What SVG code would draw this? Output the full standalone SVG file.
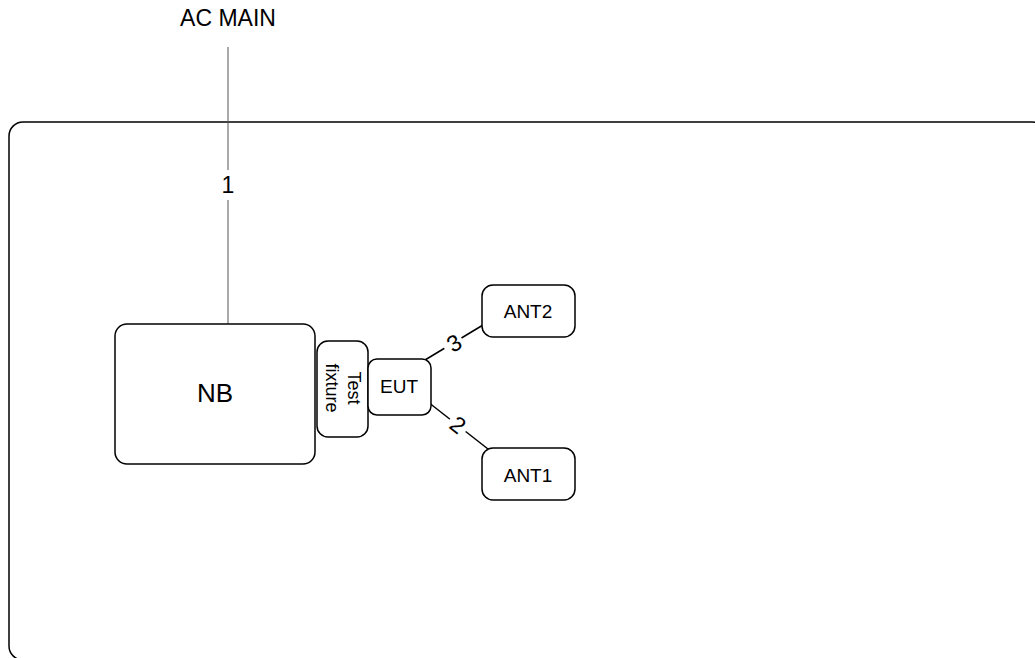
<svg xmlns="http://www.w3.org/2000/svg" width="1035" height="658" viewBox="0 0 1035 658">
<style>
.box{fill:#fff;stroke:#000;stroke-width:1.5}
.t{font-family:"Liberation Sans",Arial,sans-serif;fill:#000;text-anchor:middle;dominant-baseline:central}
.ln{stroke:#000;stroke-width:1.5;fill:none}
</style>
<rect x="0" y="0" width="1035" height="658" fill="#fff"/>
<g id="enclosure"><rect class="box" x="9" y="122" width="1037" height="538" rx="14"/></g>
<g id="connectors">
<line x1="228" y1="47" x2="228" y2="324" stroke="#555" stroke-width="1"/>
<rect x="218" y="170" width="20" height="30" fill="#fff"/>
<text class="t" x="228" y="185" font-size="23">1</text>
<line class="ln" x1="425" y1="360" x2="483" y2="325"/>
<line class="ln" x1="428" y1="402" x2="488" y2="449"/>
<rect x="443" y="331" width="20" height="24" fill="#fff" transform="rotate(-31 454 343)"/>
<text class="t" x="454" y="343" font-size="23" transform="rotate(-31 454 343)">3</text>
<rect x="448" y="413" width="20" height="24" fill="#fff" transform="rotate(38 458 425)"/>
<text class="t" x="458" y="425" font-size="23" transform="rotate(38 458 425)">2</text>
</g>
<g id="acmain"><text class="t" x="228" y="18" font-size="23">AC MAIN</text></g>
<g id="nb"><rect class="box" x="115" y="324" width="200" height="140" rx="12"/><text class="t" x="215" y="393" font-size="26">NB</text></g>
<g id="fixture"><rect class="box" x="317" y="341" width="51" height="96" rx="11"/>
<text class="t" font-size="18" transform="translate(343 388) rotate(90)"><tspan x="0" y="-11">Test</tspan><tspan x="0" y="11">fixture</tspan></text></g>
<g id="eut"><rect class="box" x="368" y="359" width="63" height="56" rx="9"/><text class="t" x="399" y="386" font-size="19">EUT</text></g>
<g id="ant2"><rect class="box" x="482" y="285" width="93" height="52" rx="11"/><text class="t" x="528" y="311" font-size="19">ANT2</text></g>
<g id="ant1"><rect class="box" x="482" y="448" width="93" height="52" rx="11"/><text class="t" x="528" y="475" font-size="19">ANT1</text></g>
</svg>
